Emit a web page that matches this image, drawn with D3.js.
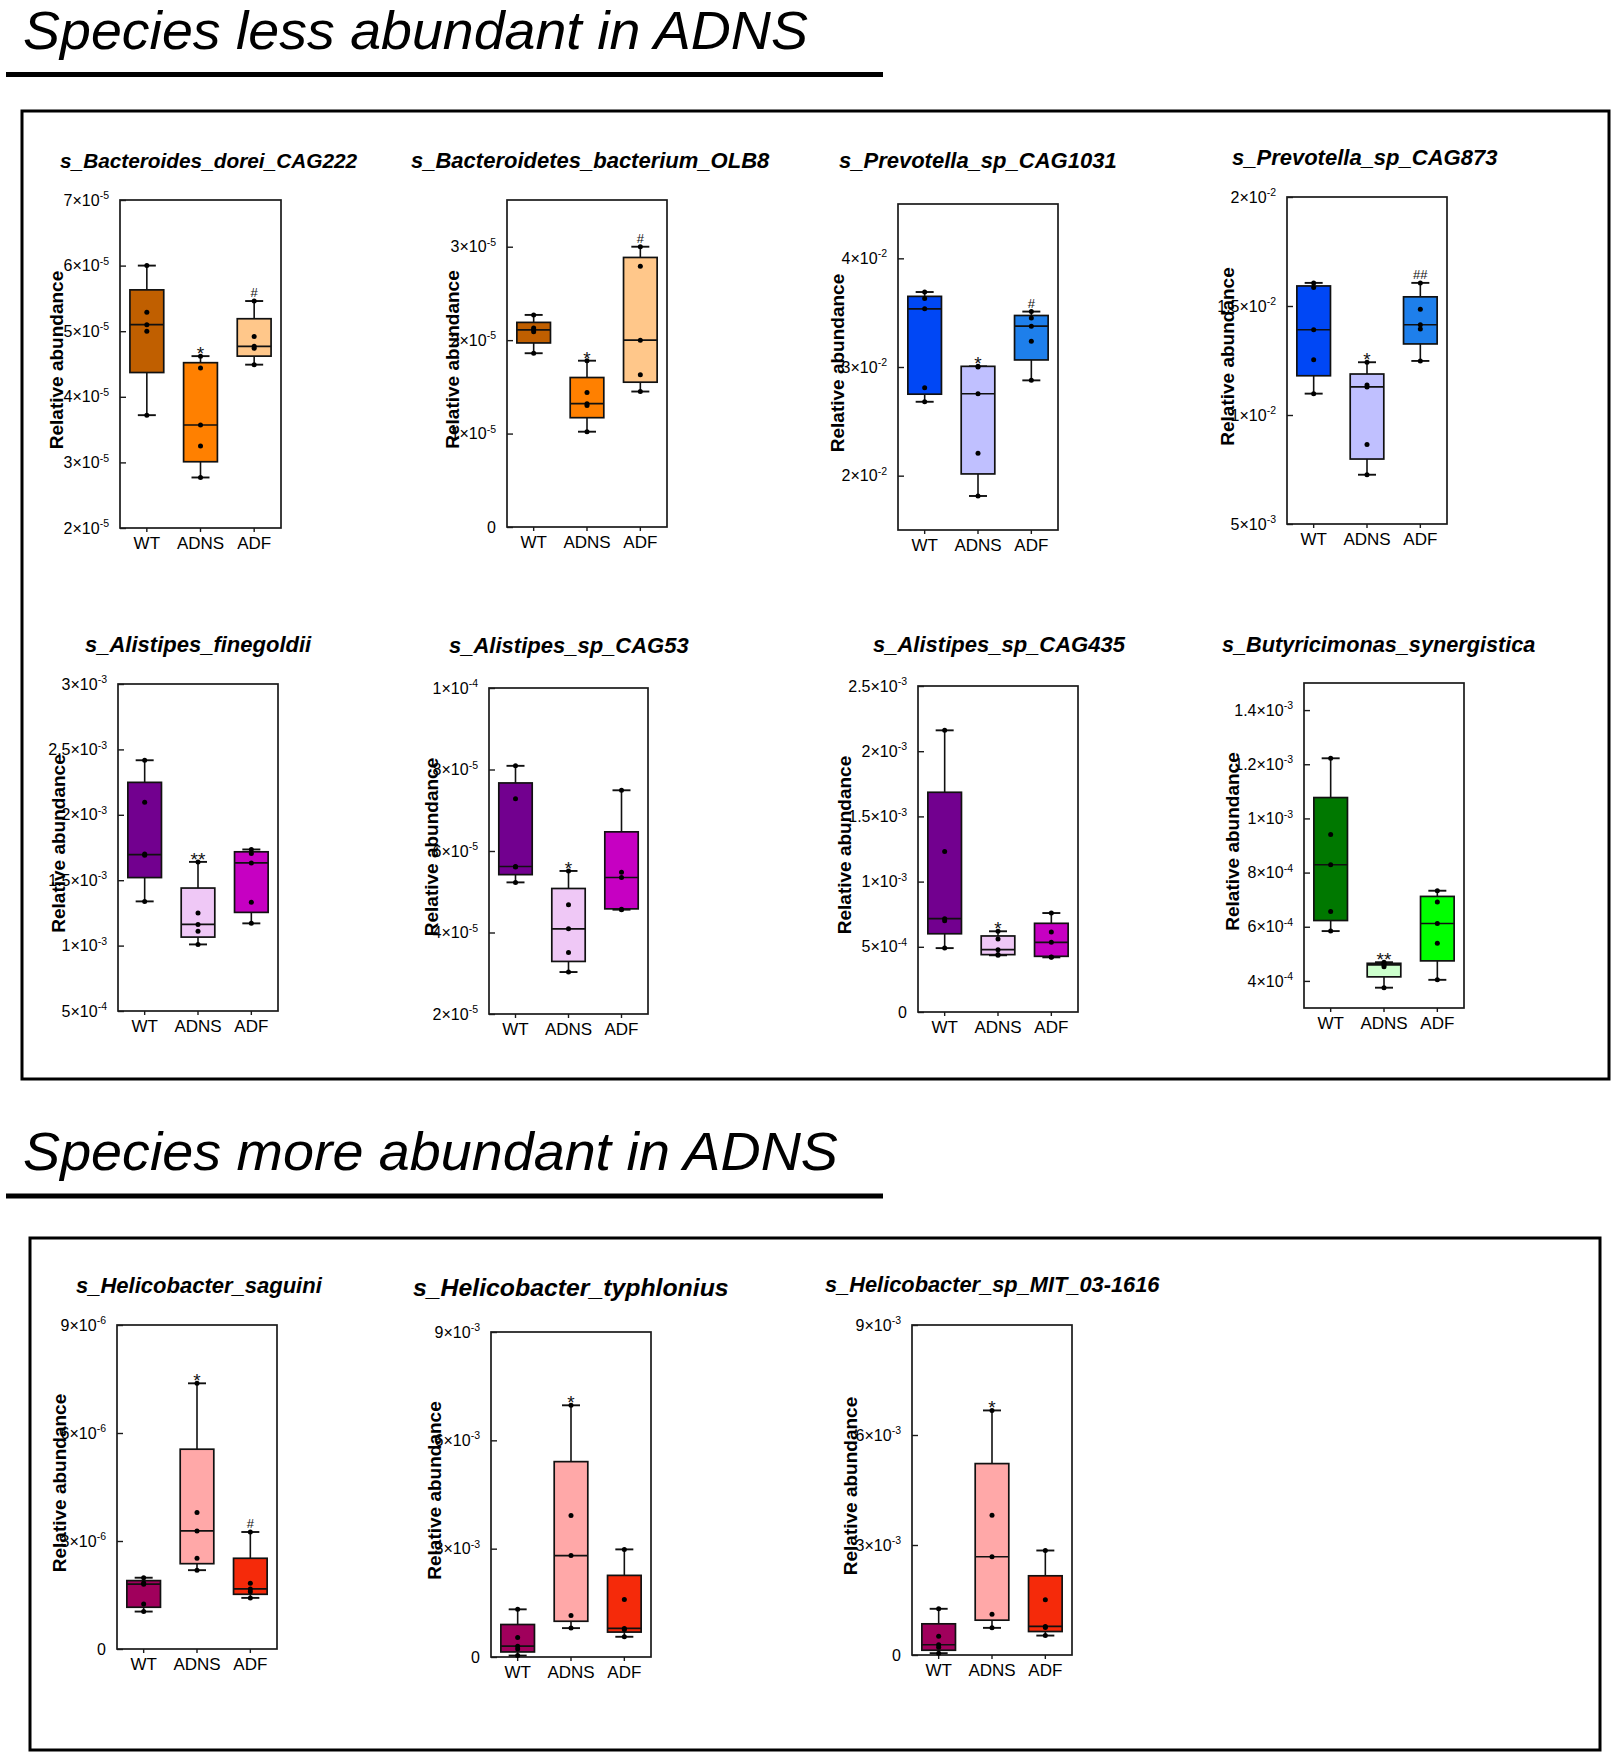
<!DOCTYPE html>
<html>
<head>
<meta charset="utf-8">
<title>Species abundance in ADNS</title>
<script src="https://d3js.org/d3.v7.min.js"></script>
<style>
  body { margin: 0; background: #fff; }
  svg { display: block; font-family: "Liberation Sans", Arial, sans-serif; }
</style>
</head>
<body>
<script>
// ---- data ----
var groups = ["WT", "ADNS", "ADF"];

var headings = ["Species less abundant in ADNS", "Species more abundant in ADNS"];

var speciesNames = [
  "s_Bacteroides_dorei_CAG222", "s_Bacteroidetes_bacterium_OLB8",
  "s_Prevotella_sp_CAG1031", "s_Prevotella_sp_CAG873",
  "s_Alistipes_finegoldii", "s_Alistipes_sp_CAG53",
  "s_Alistipes_sp_CAG435", "s_Butyricimonas_synergistica",
  "s_Helicobacter_saguini", "s_Helicobacter_typhlonius",
  "s_Helicobacter_sp_MIT_03-1616"
];

var yDomains = [
  [2e-5, 7e-5], [0, 3.5e-5], [1.5e-2, 4.5e-2], [5e-3, 2e-2],
  [5e-4, 3e-3], [2e-5, 1e-4], [0, 2.5e-3], [3e-4, 1.5e-3],
  [0, 9e-6], [0, 9e-3], [0, 9e-3]
];

var yTickValues = [
  [2e-5, 3e-5, 4e-5, 5e-5, 6e-5, 7e-5],
  [0, 1e-5, 2e-5, 3e-5],
  [2e-2, 3e-2, 4e-2],
  [5e-3, 1e-2, 1.5e-2, 2e-2],
  [5e-4, 1e-3, 1.5e-3, 2e-3, 2.5e-3, 3e-3],
  [2e-5, 4e-5, 6e-5, 8e-5, 1e-4],
  [0, 5e-4, 1e-3, 1.5e-3, 2e-3, 2.5e-3],
  [4e-4, 6e-4, 8e-4, 1e-3, 1.2e-3, 1.4e-3],
  [0, 3e-6, 6e-6, 9e-6],
  [0, 3e-3, 6e-3, 9e-3],
  [0, 3e-3, 6e-3, 9e-3]
];

var yTickLabels = [
  ["2×10^-5", "3×10^-5", "4×10^-5", "5×10^-5", "6×10^-5", "7×10^-5"],
  ["0", "1×10^-5", "2×10^-5", "3×10^-5"],
  ["2×10^-2", "3×10^-2", "4×10^-2"],
  ["5×10^-3", "1×10^-2", "1.5×10^-2", "2×10^-2"],
  ["5×10^-4", "1×10^-3", "1.5×10^-3", "2×10^-3", "2.5×10^-3", "3×10^-3"],
  ["2×10^-5", "4×10^-5", "6×10^-5", "8×10^-5", "1×10^-4"],
  ["0", "5×10^-4", "1×10^-3", "1.5×10^-3", "2×10^-3", "2.5×10^-3"],
  ["4×10^-4", "6×10^-4", "8×10^-4", "1×10^-3", "1.2×10^-3", "1.4×10^-3"],
  ["0", "3×10^-6", "6×10^-6", "9×10^-6"],
  ["0", "3×10^-3", "6×10^-3", "9×10^-3"],
  ["0", "3×10^-3", "6×10^-3", "9×10^-3"]
];

// [min, q1, median, q3, max] for WT, ADNS, ADF
var boxStats = [
  [[3.72e-5, 4.37e-5, 5.10e-5, 5.63e-5, 6.00e-5], [2.77e-5, 3.01e-5, 3.57e-5, 4.52e-5, 4.62e-5], [4.49e-5, 4.62e-5, 4.77e-5, 5.19e-5, 5.46e-5]],
  [[1.86e-5, 1.97e-5, 2.11e-5, 2.19e-5, 2.27e-5], [1.02e-5, 1.17e-5, 1.32e-5, 1.60e-5, 1.78e-5], [1.45e-5, 1.55e-5, 2.00e-5, 2.885e-5, 3.00e-5]],
  [[2.68e-2, 2.75e-2, 3.535e-2, 3.65e-2, 3.69e-2], [1.813e-2, 2.016e-2, 2.754e-2, 3.006e-2, 3.006e-2], [2.877e-2, 3.065e-2, 3.376e-2, 3.474e-2, 3.51e-2]],
  [[1.098e-2, 1.18e-2, 1.391e-2, 1.592e-2, 1.606e-2], [0.726e-2, 0.798e-2, 1.129e-2, 1.188e-2, 1.242e-2], [1.248e-2, 1.326e-2, 1.414e-2, 1.542e-2, 1.606e-2]],
  [[1.338e-3, 1.52e-3, 1.696e-3, 2.248e-3, 2.417e-3], [1.009e-3, 1.065e-3, 1.162e-3, 1.44e-3, 1.64e-3], [1.17e-3, 1.254e-3, 1.632e-3, 1.717e-3, 1.735e-3]],
  [[5.23e-5, 5.42e-5, 5.62e-5, 7.67e-5, 8.09e-5], [3.03e-5, 3.29e-5, 4.09e-5, 5.08e-5, 5.51e-5], [4.56e-5, 4.58e-5, 5.35e-5, 6.47e-5, 7.49e-5]],
  [[0.49e-3, 0.60e-3, 0.716e-3, 1.685e-3, 2.16e-3], [0.435e-3, 0.44e-3, 0.478e-3, 0.583e-3, 0.619e-3], [0.419e-3, 0.427e-3, 0.534e-3, 0.68e-3, 0.759e-3]],
  [[0.584e-3, 0.623e-3, 0.829e-3, 1.077e-3, 1.222e-3], [0.375e-3, 0.415e-3, 0.459e-3, 0.465e-3, 0.469e-3], [0.404e-3, 0.474e-3, 0.612e-3, 0.712e-3, 0.733e-3]],
  [[1.04e-6, 1.16e-6, 1.80e-6, 1.90e-6, 1.98e-6], [2.19e-6, 2.37e-6, 3.28e-6, 5.55e-6, 7.38e-6], [1.42e-6, 1.52e-6, 1.67e-6, 2.52e-6, 3.25e-6]],
  [[0.04e-3, 0.14e-3, 0.30e-3, 0.90e-3, 1.32e-3], [0.80e-3, 0.99e-3, 2.81e-3, 5.41e-3, 6.97e-3], [0.56e-3, 0.69e-3, 0.79e-3, 2.26e-3, 2.98e-3]],
  [[0.05e-3, 0.13e-3, 0.28e-3, 0.85e-3, 1.26e-3], [0.74e-3, 0.95e-3, 2.68e-3, 5.22e-3, 6.67e-3], [0.53e-3, 0.64e-3, 0.78e-3, 2.16e-3, 2.85e-3]]
];

// individual samples for WT, ADNS, ADF
var samplePoints = [
  [[6.00e-5, 5.29e-5, 5.10e-5, 5.00e-5, 3.72e-5], [4.62e-5, 4.44e-5, 3.57e-5, 3.25e-5, 2.77e-5], [5.46e-5, 4.92e-5, 4.77e-5, 4.74e-5, 4.49e-5]],
  [[2.27e-5, 2.13e-5, 2.11e-5, 2.09e-5, 1.86e-5], [1.78e-5, 1.44e-5, 1.32e-5, 1.30e-5, 1.02e-5], [3.00e-5, 2.79e-5, 2.00e-5, 1.63e-5, 1.45e-5]],
  [[3.69e-2, 3.63e-2, 3.535e-2, 2.81e-2, 2.68e-2], [3.006e-2, 3.0e-2, 2.754e-2, 2.207e-2, 1.813e-2], [3.51e-2, 3.45e-2, 3.376e-2, 3.237e-2, 2.877e-2]],
  [[1.606e-2, 1.585e-2, 1.391e-2, 1.254e-2, 1.098e-2], [1.242e-2, 1.138e-2, 1.129e-2, 0.865e-2, 0.726e-2], [1.606e-2, 1.485e-2, 1.414e-2, 1.394e-2, 1.248e-2]],
  [[2.417e-3, 2.095e-3, 1.70e-3, 1.69e-3, 1.338e-3], [1.64e-3, 1.249e-3, 1.162e-3, 1.11e-3, 1.009e-3], [1.735e-3, 1.704e-3, 1.632e-3, 1.331e-3, 1.17e-3]],
  [[8.09e-5, 7.28e-5, 5.62e-5, 5.61e-5, 5.23e-5], [5.51e-5, 4.68e-5, 4.09e-5, 3.51e-5, 3.03e-5], [7.49e-5, 5.48e-5, 5.35e-5, 4.57e-5, 4.56e-5]],
  [[2.16e-3, 1.23e-3, 0.716e-3, 0.70e-3, 0.49e-3], [0.619e-3, 0.56e-3, 0.478e-3, 0.44e-3, 0.435e-3], [0.759e-3, 0.613e-3, 0.534e-3, 0.422e-3, 0.419e-3]],
  [[1.222e-3, 0.941e-3, 0.829e-3, 0.656e-3, 0.584e-3], [0.469e-3, 0.463e-3, 0.459e-3, 0.452e-3, 0.375e-3], [0.733e-3, 0.691e-3, 0.612e-3, 0.539e-3, 0.404e-3]],
  [[1.98e-6, 1.83e-6, 1.80e-6, 1.25e-6, 1.04e-6], [7.38e-6, 3.79e-6, 3.28e-6, 2.52e-6, 2.19e-6], [3.25e-6, 1.825e-6, 1.67e-6, 1.59e-6, 1.42e-6]],
  [[1.32e-3, 0.54e-3, 0.30e-3, 0.22e-3, 0.04e-3], [6.97e-3, 3.92e-3, 2.81e-3, 1.15e-3, 0.80e-3], [2.98e-3, 1.59e-3, 0.79e-3, 0.76e-3, 0.56e-3]],
  [[1.26e-3, 0.51e-3, 0.28e-3, 0.21e-3, 0.05e-3], [6.67e-3, 3.81e-3, 2.68e-3, 1.11e-3, 0.74e-3], [2.85e-3, 1.51e-3, 0.78e-3, 0.75e-3, 0.53e-3]]
];

var significance = [
  ["", "*", "#"], ["", "*", "#"], ["", "*", "#"], ["", "*", "##"],
  ["", "**", ""], ["", "*", ""], ["", "*", ""], ["", "**", ""],
  ["", "*", "#"], ["", "*", ""], ["", "*", ""]
];

// ---- layout and styles ----
var palettes = {
  orange: ["#C05F00", "#FF8000", "#FFC78A"],
  blue:   ["#0047F5", "#C0C0FF", "#1E7FEB"],
  purple: ["#72008F", "#EFC8F6", "#C600C2"],
  green:  ["#007800", "#CCFFCC", "#00FF00"],
  red:    ["#A0005C", "#FFA8A8", "#F52A0A"]
};
var panelPalette = ["orange", "orange", "blue", "blue", "purple", "purple", "purple", "green", "red", "red", "red"];

// frame [x0, y0, x1, y1], title [x, baseline, size], y-title dx
var frames = [
  [120, 200, 281, 528], [507, 200, 667, 527], [898, 204, 1058, 530], [1287, 197, 1447, 524],
  [118, 684, 278, 1011], [489, 688, 648, 1014], [918, 686, 1078, 1012], [1304, 683, 1464, 1008],
  [117, 1325, 277, 1649], [491, 1332, 651, 1657], [912, 1325, 1072, 1655]
];
var titlePos = [
  [60, 168, 20.8], [411, 168, 22], [839, 168, 22], [1232, 165, 22],
  [85, 652, 22], [449, 653, 22], [873, 652, 22], [1222, 652, 21.7],
  [76, 1293, 22], [413, 1296, 24.8], [825, 1292, 21.8]
];
var yTitleDx = [-64, -55, -61, -60, -60, -58, -74, -72, -58, -57, -62];

var svg = d3.select("body").append("svg")
    .attr("width", 1619)
    .attr("height", 1760);

// section headings + underline + enclosing boxes
var headY = [49, 1170];
var headLen = [785, 815];
var ruleY = [74.5, 1196];
headings.forEach(function(h, i) {
  svg.append("text")
      .attr("x", 23)
      .attr("y", headY[i])
      .attr("font-size", 53)
      .attr("font-style", "italic")
      .attr("textLength", headLen[i])
      .attr("lengthAdjust", "spacingAndGlyphs")
      .attr("fill", "#000")
      .text(h);
  svg.append("line")
      .attr("x1", 6).attr("x2", 883)
      .attr("y1", ruleY[i]).attr("y2", ruleY[i])
      .attr("stroke", "#000")
      .attr("stroke-width", 5);
});

var sections = [[22, 111, 1609, 1079], [30, 1238, 1600, 1750]];
sections.forEach(function(s) {
  svg.append("rect")
      .attr("x", s[0]).attr("y", s[1])
      .attr("width", s[2] - s[0]).attr("height", s[3] - s[1])
      .attr("fill", "none")
      .attr("stroke", "#000")
      .attr("stroke-width", 3);
});

function drawPanel(i) {
  var f = frames[i],
      x0 = f[0], y0 = f[1], x1 = f[2], y1 = f[3];
  var colors = palettes[panelPalette[i]];
  var g = svg.append("g");

  var x = d3.scaleBand().domain(groups).range([x0, x1])
      .paddingInner(0.37).paddingOuter(0.185);
  var y = d3.scaleLinear().domain(yDomains[i]).range([y1, y0]);

  // title
  g.append("text")
      .attr("x", titlePos[i][0])
      .attr("y", titlePos[i][1])
      .attr("font-size", titlePos[i][2])
      .attr("font-weight", "bold")
      .attr("font-style", "italic")
      .text(speciesNames[i]);

  // frame
  g.append("rect")
      .attr("x", x0).attr("y", y0)
      .attr("width", x1 - x0).attr("height", y1 - y0)
      .attr("fill", "none")
      .attr("stroke", "#1a1a1a")
      .attr("stroke-width", 1.7);

  // y axis, ticks pointing inward
  var ya = g.append("g")
      .attr("transform", "translate(" + x0 + ",0)")
      .call(d3.axisLeft(y).tickValues(yTickValues[i]).tickSize(-6).tickPadding(11).tickFormat(""));
  ya.attr("font-family", null).attr("font-size", 16);
  ya.select(".domain").remove();
  ya.selectAll(".tick line").attr("stroke", "#1a1a1a").attr("stroke-width", 1.4);
  ya.selectAll(".tick text").attr("fill", "#000").each(function(d, j) {
    var parts = yTickLabels[i][j].split("^");
    var t = d3.select(this).text(null);
    t.append("tspan").text(parts[0]);
    if (parts[1]) {
      t.append("tspan").attr("font-size", 10.5).attr("dy", -6.5).text(parts[1]);
    }
  });

  // x axis
  var xa = g.append("g")
      .attr("transform", "translate(0," + y1 + ")")
      .call(d3.axisBottom(x).tickSize(4).tickPadding(5));
  xa.attr("font-family", null).attr("font-size", 17);
  xa.select(".domain").remove();
  xa.selectAll(".tick line").attr("stroke", "#1a1a1a").attr("stroke-width", 1.4);
  xa.selectAll(".tick text").attr("fill", "#000");

  // y title
  g.append("text")
      .attr("transform", "translate(" + (x0 + yTitleDx[i]) + "," + ((y0 + y1) / 2 - 4) + ") rotate(-90)")
      .attr("text-anchor", "middle")
      .attr("dominant-baseline", "central")
      .attr("font-size", 19)
      .attr("font-weight", "bold")
      .text("Relative abundance");

  var bw = x.bandwidth(),
      capW = 18;

  groups.forEach(function(grp, j) {
    var s = boxStats[i][j];
    var cx = x(grp) + bw / 2;
    var gg = g.append("g");

    // whiskers
    gg.append("line")
        .attr("x1", cx).attr("x2", cx)
        .attr("y1", y(s[4])).attr("y2", y(s[3]))
        .attr("stroke", "#111").attr("stroke-width", 1.6);
    gg.append("line")
        .attr("x1", cx).attr("x2", cx)
        .attr("y1", y(s[1])).attr("y2", y(s[0]))
        .attr("stroke", "#111").attr("stroke-width", 1.6);
    [s[0], s[4]].forEach(function(v) {
      gg.append("line")
          .attr("x1", cx - capW / 2).attr("x2", cx + capW / 2)
          .attr("y1", y(v)).attr("y2", y(v))
          .attr("stroke", "#111").attr("stroke-width", 1.9);
    });

    // box
    gg.append("rect")
        .attr("x", x(grp))
        .attr("y", y(s[3]))
        .attr("width", bw)
        .attr("height", Math.max(1, y(s[1]) - y(s[3])))
        .attr("fill", colors[j])
        .attr("stroke", "#111")
        .attr("stroke-width", 1.7);
    gg.append("line")
        .attr("x1", x(grp)).attr("x2", x(grp) + bw)
        .attr("y1", y(s[2])).attr("y2", y(s[2]))
        .attr("stroke", "#111").attr("stroke-width", 1.7);

    // samples
    gg.selectAll("circle")
        .data(samplePoints[i][j])
        .enter().append("circle")
        .attr("cx", cx)
        .attr("cy", function(d) { return y(d); })
        .attr("r", 2.5)
        .attr("fill", "#000");

    // significance marks
    var mark = significance[i][j];
    if (mark) {
      var star = mark.charAt(0) === "*";
      gg.append("text")
          .attr("x", cx)
          .attr("y", y(s[4]) + (star ? 4 : -4))
          .attr("text-anchor", "middle")
          .attr("font-size", star ? 19 : 13)
          .attr("fill", "#111")
          .text(mark);
    }
  });
}

speciesNames.forEach(function(d, i) { drawPanel(i); });
</script>
</body>
</html>
